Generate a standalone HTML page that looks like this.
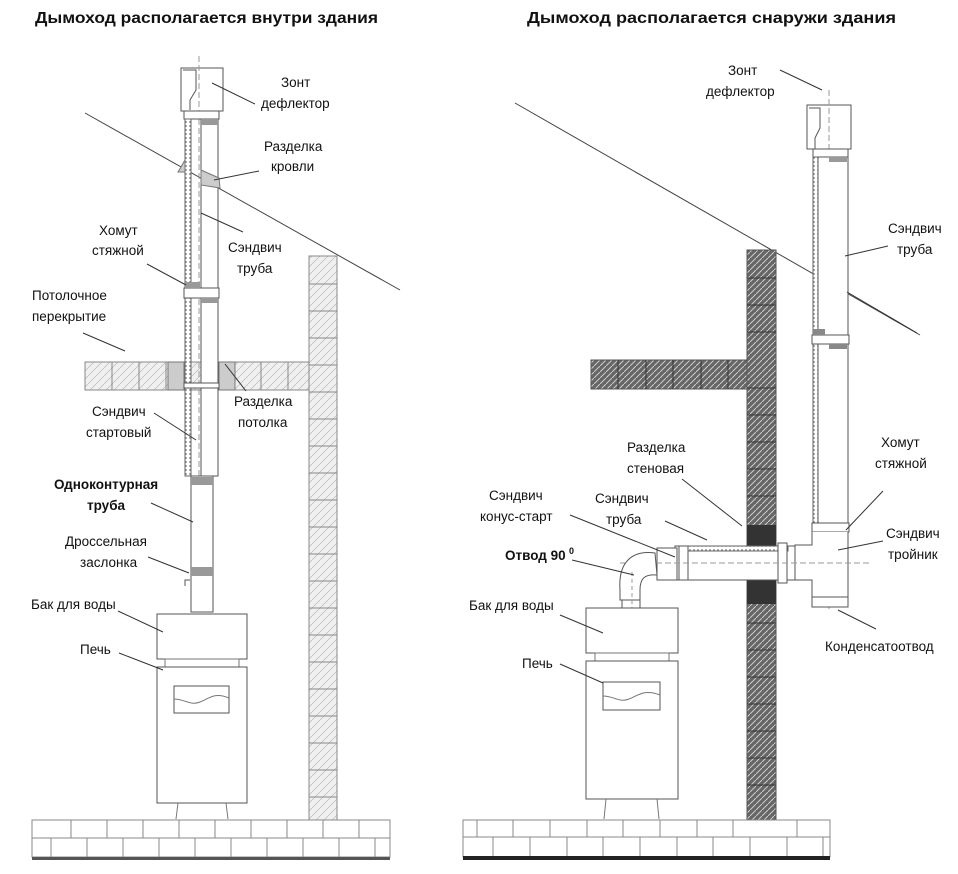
<!DOCTYPE html>
<html><head><meta charset="utf-8"><style>
html,body{margin:0;padding:0;background:#fff}
svg{display:block}
text{font-family:"Liberation Sans",Arial,sans-serif;font-size:13.5px;fill:#111}
.b{font-weight:bold}
.t{font-weight:bold;font-size:16px}
</style></head><body>
<svg width="958" height="874" viewBox="0 0 958 874" xmlns="http://www.w3.org/2000/svg">
<defs>
<pattern id="wl" width="8" height="8" patternUnits="userSpaceOnUse"><rect width="8" height="8" fill="#f0f0f0"/><path d="M0 8 L8 0" stroke="#bbb" stroke-width="0.7"/></pattern>
<pattern id="wd" width="6" height="6" patternUnits="userSpaceOnUse"><rect width="6" height="6" fill="#666"/><path d="M0 6 L6 0" stroke="#ccc" stroke-width="1"/></pattern>
<pattern id="ins" width="4" height="4" patternUnits="userSpaceOnUse"><rect width="4" height="4" fill="#fff"/><circle cx="2" cy="2" r="0.9" fill="#777"/></pattern>
</defs>
<text x="35" y="23" class="t" textLength="343" lengthAdjust="spacingAndGlyphs">Дымоход располагается  внутри  здания</text>
<text x="527" y="23" class="t" textLength="369" lengthAdjust="spacingAndGlyphs">Дымоход располагается  снаружи  здания</text>

<!-- LEFT DIAGRAM -->
<line x1="85" y1="113" x2="400" y2="290" stroke="#444"/>
<rect x="309" y="256" width="28" height="564" fill="url(#wl)" stroke="#888"/>
<g stroke="#888"><line x1="309" y1="284" x2="337" y2="284"/><line x1="309" y1="311" x2="337" y2="311"/><line x1="309" y1="338" x2="337" y2="338"/><line x1="309" y1="365" x2="337" y2="365"/><line x1="309" y1="392" x2="337" y2="392"/><line x1="309" y1="419" x2="337" y2="419"/><line x1="309" y1="446" x2="337" y2="446"/><line x1="309" y1="473" x2="337" y2="473"/><line x1="309" y1="500" x2="337" y2="500"/><line x1="309" y1="527" x2="337" y2="527"/><line x1="309" y1="554" x2="337" y2="554"/><line x1="309" y1="581" x2="337" y2="581"/><line x1="309" y1="608" x2="337" y2="608"/><line x1="309" y1="635" x2="337" y2="635"/><line x1="309" y1="662" x2="337" y2="662"/><line x1="309" y1="689" x2="337" y2="689"/><line x1="309" y1="716" x2="337" y2="716"/><line x1="309" y1="743" x2="337" y2="743"/><line x1="309" y1="770" x2="337" y2="770"/><line x1="309" y1="797" x2="337" y2="797"/></g>
<rect x="85" y="362" width="224" height="28" fill="url(#wl)" stroke="#888"/>
<g stroke="#888"><line x1="112" y1="362" x2="112" y2="390"/><line x1="139" y1="362" x2="139" y2="390"/><line x1="166" y1="362" x2="166" y2="390"/><line x1="234" y1="362" x2="234" y2="390"/><line x1="261" y1="362" x2="261" y2="390"/><line x1="288" y1="362" x2="288" y2="390"/></g>
<rect x="168" y="362" width="16" height="28" fill="#ccc" stroke="#777"/>
<rect x="219" y="362" width="16" height="28" fill="#ccc" stroke="#777"/>
<rect x="181" y="68" width="42" height="43" fill="#fff" stroke="#555"/>
<path d="M183 70 L196 70 L196 90 L190 100 L190 110" fill="none" stroke="#555"/>
<line x1="199" y1="56" x2="199" y2="615" stroke="#999" stroke-dasharray="6 3"/>
<rect x="184" y="111" width="35" height="8" fill="#fff" stroke="#555"/>
<rect x="185" y="119" width="6" height="357" fill="url(#ins)" stroke="#666"/>
<rect x="201" y="119" width="17" height="357" fill="#fff" stroke="#555"/>
<rect x="201" y="119" width="17" height="6" fill="#999"/>
<rect x="184" y="288" width="35" height="10" fill="#fff" stroke="#555"/>
<rect x="185" y="282" width="15" height="6" fill="#999"/>
<rect x="201" y="298" width="17" height="5" fill="#999"/>
<rect x="184" y="383" width="35" height="5" fill="#fff" stroke="#555"/>
<path d="M178 172 L185 160 L185 172 Z" fill="#ccc" stroke="#777"/>
<path d="M201 170 L219 178 L220 188 L201 185 Z" fill="#ccc" stroke="#777"/>
<rect x="191" y="476" width="22" height="136" fill="#fff" stroke="#555"/>
<rect x="191" y="477" width="22" height="8" fill="#999"/>
<rect x="191" y="567" width="22" height="9" fill="#999"/>
<path d="M190 580 L185 580 L185 586" fill="none" stroke="#555"/>
<rect x="157" y="614" width="90" height="45" fill="#fff" stroke="#555"/>
<rect x="165" y="659" width="74" height="8" fill="#fff" stroke="#777"/>
<rect x="157" y="667" width="90" height="136" fill="#fff" stroke="#555"/>
<rect x="174" y="686" width="55" height="27" fill="#fff" stroke="#555"/>
<path d="M174 699 C185 699 190 706 200 702 S215 692 229 698" fill="none" stroke="#777"/>
<path d="M178 803 L176 819 M226 803 L228 819" stroke="#777"/>
<rect x="32" y="820" width="358" height="37" fill="#fff" stroke="#888"/>
<line x1="32" y1="838" x2="390" y2="838" stroke="#888"/>
<g stroke="#888"><line x1="71" y1="820" x2="71" y2="838"/><line x1="107" y1="820" x2="107" y2="838"/><line x1="143" y1="820" x2="143" y2="838"/><line x1="179" y1="820" x2="179" y2="838"/><line x1="215" y1="820" x2="215" y2="838"/><line x1="251" y1="820" x2="251" y2="838"/><line x1="287" y1="820" x2="287" y2="838"/><line x1="323" y1="820" x2="323" y2="838"/><line x1="359" y1="820" x2="359" y2="838"/>
<line x1="51" y1="838" x2="51" y2="857"/><line x1="87" y1="838" x2="87" y2="857"/><line x1="123" y1="838" x2="123" y2="857"/><line x1="159" y1="838" x2="159" y2="857"/><line x1="195" y1="838" x2="195" y2="857"/><line x1="231" y1="838" x2="231" y2="857"/><line x1="267" y1="838" x2="267" y2="857"/><line x1="303" y1="838" x2="303" y2="857"/><line x1="339" y1="838" x2="339" y2="857"/><line x1="375" y1="838" x2="375" y2="857"/></g>
<rect x="32" y="857" width="358" height="3" fill="#555"/>
<g stroke="#333">
<line x1="212" y1="83" x2="255" y2="104"/>
<line x1="214" y1="180" x2="259" y2="171"/>
<line x1="201" y1="213" x2="243" y2="232"/>
<line x1="147" y1="264" x2="186" y2="285"/>
<line x1="83" y1="333" x2="125" y2="351"/>
<line x1="225" y1="364" x2="246" y2="391"/>
<line x1="154" y1="413" x2="196" y2="440"/>
<line x1="151" y1="503" x2="193" y2="522"/>
<line x1="148" y1="557" x2="189" y2="573"/>
<line x1="118" y1="611" x2="163" y2="632"/>
<line x1="119" y1="653" x2="163" y2="670"/>
</g>
<text x="281" y="87">Зонт</text><text x="261" y="108">дефлектор</text>
<text x="264" y="151">Разделка</text><text x="271" y="171">кровли</text>
<text x="228" y="252">Сэндвич</text><text x="237" y="273">труба</text>
<text x="99" y="235">Хомут</text><text x="92" y="255">стяжной</text>
<text x="32" y="300">Потолочное</text><text x="32" y="321">перекрытие</text>
<text x="234" y="406">Разделка</text><text x="238" y="427">потолка</text>
<text x="92" y="416">Сэндвич</text><text x="86" y="437">стартовый</text>
<text x="54" y="489" class="b">Одноконтурная</text><text x="87" y="510" class="b">труба</text>
<text x="65" y="546">Дроссельная</text><text x="80" y="567">заслонка</text>
<text x="31" y="609">Бак для воды</text>
<text x="80" y="654">Печь</text>

<!-- RIGHT DIAGRAM -->
<line x1="515" y1="103" x2="920" y2="335" stroke="#444"/>
<rect x="747" y="250" width="29" height="570" fill="url(#wd)" stroke="#555"/>
<g stroke="#333"><line x1="747" y1="278" x2="776" y2="278"/><line x1="747" y1="305" x2="776" y2="305"/><line x1="747" y1="332" x2="776" y2="332"/><line x1="747" y1="388" x2="776" y2="388"/><line x1="747" y1="415" x2="776" y2="415"/><line x1="747" y1="442" x2="776" y2="442"/><line x1="747" y1="469" x2="776" y2="469"/><line x1="747" y1="496" x2="776" y2="496"/><line x1="747" y1="623" x2="776" y2="623"/><line x1="747" y1="650" x2="776" y2="650"/><line x1="747" y1="677" x2="776" y2="677"/><line x1="747" y1="704" x2="776" y2="704"/><line x1="747" y1="731" x2="776" y2="731"/><line x1="747" y1="758" x2="776" y2="758"/><line x1="747" y1="785" x2="776" y2="785"/></g>
<rect x="591" y="360" width="156" height="29" fill="url(#wd)" stroke="#555"/>
<g stroke="#333"><line x1="618" y1="360" x2="618" y2="389"/><line x1="646" y1="360" x2="646" y2="389"/><line x1="673" y1="360" x2="673" y2="389"/><line x1="701" y1="360" x2="701" y2="389"/><line x1="728" y1="360" x2="728" y2="389"/></g>
<rect x="747" y="525" width="29" height="24" fill="#333"/>
<rect x="747" y="580" width="29" height="24" fill="#333"/>
<rect x="807" y="105" width="44" height="44" fill="#fff" stroke="#555"/>
<path d="M809 108 L820 108 L820 128 L815 138 L815 149" fill="none" stroke="#555"/>
<line x1="829" y1="90" x2="829" y2="612" stroke="#999" stroke-dasharray="6 3"/>
<rect x="813" y="149" width="35" height="8" fill="#fff" stroke="#555"/>
<rect x="813" y="157" width="5" height="370" fill="url(#ins)" stroke="#666"/>
<rect x="818" y="157" width="30" height="370" fill="#fff" stroke="#555"/>
<rect x="829" y="157" width="18" height="5" fill="#999"/>
<rect x="812" y="335" width="37" height="9" fill="#fff" stroke="#555"/>
<rect x="813" y="329" width="12" height="6" fill="#888"/>
<rect x="829" y="344" width="18" height="5" fill="#888"/>
<rect x="812" y="523" width="37" height="9" fill="#fff" stroke="#555"/>
<path d="M812 532 L812 545 L795 545 L795 580 L812 580 L812 597 L848 597 L848 532" fill="#fff" stroke="#555"/>
<rect x="812" y="597" width="36" height="10" fill="#fff" stroke="#555"/>
<rect x="675" y="546" width="120" height="34" fill="#fff" stroke="#555"/>
<rect x="688" y="546" width="100" height="5" fill="url(#ins)" stroke="#666"/>
<rect x="778" y="543" width="9" height="40" fill="#fff" stroke="#555"/>
<rect x="679" y="546" width="9" height="34" fill="#fff" stroke="#555"/>
<rect x="657" y="548" width="20" height="32" fill="#fff" stroke="#555"/>
<line x1="620" y1="563" x2="870" y2="563" stroke="#999" stroke-dasharray="6 3"/>
<path d="M655 553 C632 550 618 562 620 590 L620 600 L640 600 L640 590 C640 578 645 574 657 575 Z" fill="#fff" stroke="#555"/>
<rect x="622" y="600" width="18" height="8" fill="#fff" stroke="#555"/>
<line x1="632" y1="572" x2="632" y2="612" stroke="#999" stroke-dasharray="4 3"/>
<rect x="586" y="608" width="92" height="45" fill="#fff" stroke="#555"/>
<rect x="595" y="653" width="74" height="8" fill="#fff" stroke="#777"/>
<rect x="586" y="661" width="92" height="138" fill="#fff" stroke="#555"/>
<rect x="603" y="682" width="57" height="28" fill="#fff" stroke="#555"/>
<path d="M603 696 C614 696 619 703 629 699 S645 689 660 695" fill="none" stroke="#777"/>
<path d="M606 799 L604 819 M657 799 L659 819" stroke="#777"/>
<rect x="463" y="820" width="367" height="37" fill="#fff" stroke="#888"/>
<line x1="463" y1="837" x2="830" y2="837" stroke="#888"/>
<g stroke="#888"><line x1="477" y1="820" x2="477" y2="837"/><line x1="513" y1="820" x2="513" y2="837"/><line x1="550" y1="820" x2="550" y2="837"/><line x1="587" y1="820" x2="587" y2="837"/><line x1="623" y1="820" x2="623" y2="837"/><line x1="660" y1="820" x2="660" y2="837"/><line x1="697" y1="820" x2="697" y2="837"/><line x1="733" y1="820" x2="733" y2="837"/><line x1="797" y1="820" x2="797" y2="837"/>
<line x1="493" y1="837" x2="493" y2="857"/><line x1="530" y1="837" x2="530" y2="857"/><line x1="567" y1="837" x2="567" y2="857"/><line x1="603" y1="837" x2="603" y2="857"/><line x1="640" y1="837" x2="640" y2="857"/><line x1="677" y1="837" x2="677" y2="857"/><line x1="713" y1="837" x2="713" y2="857"/><line x1="750" y1="837" x2="750" y2="857"/><line x1="787" y1="837" x2="787" y2="857"/><line x1="823" y1="837" x2="823" y2="857"/></g>
<rect x="463" y="856" width="367" height="4" fill="#222"/>
<g stroke="#333">
<line x1="780" y1="70" x2="822" y2="90"/>
<line x1="845" y1="256" x2="888" y2="246"/>
<line x1="847" y1="292" x2="917" y2="333"/>
<line x1="682" y1="479" x2="742" y2="526"/>
<line x1="665" y1="521" x2="707" y2="540"/>
<line x1="570" y1="515" x2="675" y2="557"/>
<line x1="572" y1="560" x2="634" y2="575"/>
<line x1="883" y1="491" x2="846" y2="530"/>
<line x1="883" y1="541" x2="838" y2="550"/>
<line x1="838" y1="610" x2="876" y2="629"/>
<line x1="560" y1="615" x2="603" y2="633"/>
<line x1="560" y1="664" x2="603" y2="683"/>
</g>
<text x="728" y="75">Зонт</text><text x="706" y="96">дефлектор</text>
<text x="888" y="233">Сэндвич</text><text x="897" y="254">труба</text>
<text x="627" y="452">Разделка</text><text x="627" y="473">стеновая</text>
<text x="489" y="500">Сэндвич</text><text x="480" y="521">конус-старт</text>
<text x="595" y="503">Сэндвич</text><text x="606" y="524">труба</text>
<text x="505" y="560" class="b">Отвод 90</text><text x="569" y="554" class="b" style="font-size:9px">0</text>
<text x="881" y="447">Хомут</text><text x="875" y="468">стяжной</text>
<text x="886" y="538">Сэндвич</text><text x="888" y="559">тройник</text>
<text x="825" y="651">Конденсатоотвод</text>
<text x="469" y="610">Бак для воды</text>
<text x="522" y="668">Печь</text>
</svg>
</body></html>
